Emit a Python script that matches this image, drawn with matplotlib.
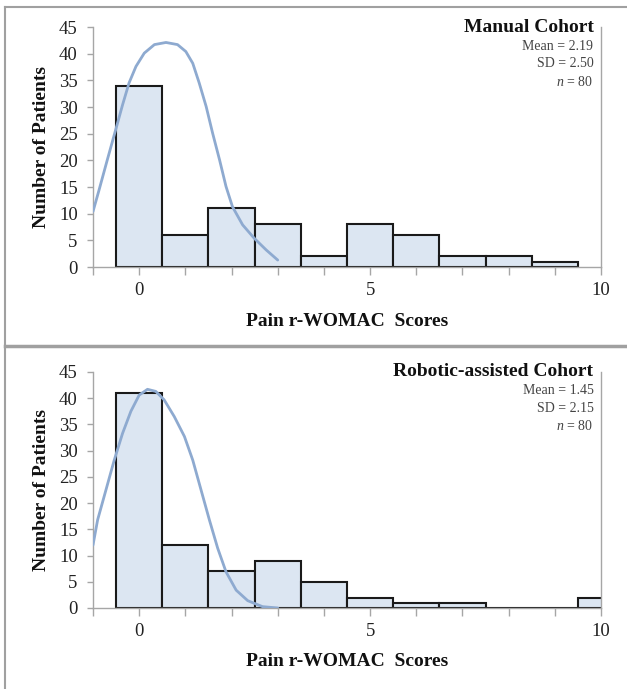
import matplotlib
matplotlib.use("Agg")
import matplotlib.pyplot as plt
from matplotlib.lines import Line2D

plt.rcParams['font.family'] = ['Liberation Serif', 'DejaVu Serif']
plt.rcParams['mathtext.fontset'] = 'custom'
plt.rcParams['mathtext.rm'] = 'Liberation Serif'
plt.rcParams['mathtext.it'] = 'Liberation Serif:italic'

# histogram data (score -> number of patients)
manual_scores = [0, 1, 2, 3, 4, 5, 6, 7, 8, 9]
manual_counts = [34, 6, 11, 8, 2, 8, 6, 2, 2, 1]
robotic_scores = [0, 1, 2, 3, 4, 5, 6, 7, 8, 9, 10]
robotic_counts = [41, 12, 7, 9, 5, 2, 1, 1, 0, 0, 2]

# fitted curves
manual_curve_x = [-1.0, -0.87, -0.69, -0.51, -0.36, -0.22, -0.07, 0.11, 0.33, 0.58,
                  0.83, 1.01, 1.16, 1.30, 1.45, 1.59, 1.74, 1.88, 2.02, 2.24,
                  2.49, 2.75, 3.0]
manual_curve_y = [10.4, 14.4, 20.1, 25.7, 30.4, 34.5, 37.6, 40.1, 41.7, 42.1,
                  41.7, 40.4, 38.2, 34.5, 30.1, 25.1, 20.1, 15.1, 11.3, 7.9,
                  5.4, 3.2, 1.3]
robotic_curve_x = [-1.0, -0.90, -0.72, -0.54, -0.36, -0.18, 0.0, 0.18, 0.36, 0.54,
                   0.76, 0.98, 1.16, 1.34, 1.52, 1.70, 1.88, 2.10, 2.35, 2.67, 3.0]
robotic_curve_y = [12.0, 16.8, 22.5, 28.2, 33.3, 37.5, 40.6, 41.7, 41.3, 39.7,
                   36.5, 32.7, 28.2, 22.5, 16.8, 11.4, 6.9, 3.4, 1.4, 0.26, 0.0]

titles = ['Manual Cohort', 'Robotic-assisted Cohort']
means = ['2.19', '1.45']
sds = ['2.50', '2.15']
ns = ['80', '80']

fig = plt.figure(figsize=(6.27, 6.89), dpi=100)
W, H = 627, 689

def make_axes(top_px, bottom_px):
    left, right = 93, 601
    return fig.add_axes([left / W, 1 - bottom_px / H, (right - left) / W, (bottom_px - top_px) / H])

ax1 = make_axes(27, 267)
ax2 = make_axes(372, 608)

panels = [
    (ax1, manual_scores, manual_counts, manual_curve_x, manual_curve_y),
    (ax2, robotic_scores, robotic_counts, robotic_curve_x, robotic_curve_y),
]

for i, (ax, sc, ct, cx, cy) in enumerate(panels):
    ax.bar(sc, ct, width=1.0, color='#dce6f2', edgecolor='#1a1a1a', linewidth=1.5, zorder=2)
    ax.plot(cx, cy, color='#8eaad0', linewidth=2.0, zorder=3,
            solid_capstyle='round', solid_joinstyle='round')
    ax.set_xlim(-1, 10)
    ax.set_ylim(0, 45)
    ax.set_yticks(range(0, 46, 5))
    ax.set_xticks(range(-1, 11))
    ax.set_xticklabels(['' if t not in (0, 5, 10) else str(t) for t in range(-1, 11)])
    ax.spines['top'].set_visible(False)
    for s in ['left', 'right', 'bottom']:
        ax.spines[s].set_color('#a6a6a6')
        ax.spines[s].set_linewidth(1.0)
    ax.tick_params(axis='both', colors='#a6a6a6', labelcolor='#222222', labelsize=13.5,
                   width=1.0, direction='out')
    ax.tick_params(axis='x', length=6, pad=5)
    ax.tick_params(axis='y', length=4, pad=7)
    ax.set_facecolor('none')
    ax.set_ylabel('Number of Patients', fontsize=14, fontweight='bold', color='#111111')
    ax.yaxis.set_label_coords(-0.085, 0.5)
    ax.set_xlabel('Pain r-WOMAC  Scores', fontsize=14, fontweight='bold', color='#111111')
    ax.xaxis.set_label_coords(0.5, -0.19)

    ax.text(0.985, 1.0, titles[i], transform=ax.transAxes, ha='right', va='center',
            fontsize=14, fontweight='bold', color='#111111')
    stats = ['Mean = ' + means[i], 'SD = ' + sds[i], r'$n$ = ' + ns[i]]
    for k, s in enumerate(stats):
        ax.text(0.985, 0.92 - k * 0.074, s, transform=ax.transAxes, ha='right', va='center',
                fontsize=10, color='#444444')

# outer frame
frame_color = '#a0a0a0'
fig.add_artist(Line2D([5 / W, 1], [1 - 7 / H, 1 - 7 / H], color=frame_color, lw=1.5))
fig.add_artist(Line2D([5 / W, 5 / W], [1 - 7 / H, 0], color=frame_color, lw=1.5))
fig.add_artist(Line2D([5 / W, 1], [1 - 346 / H, 1 - 346 / H], color=frame_color, lw=2.5))

fig.savefig('out.png', dpi=100)
